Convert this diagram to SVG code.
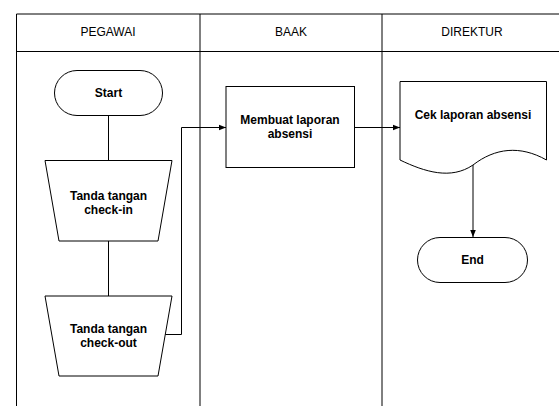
<svg xmlns="http://www.w3.org/2000/svg" width="559" height="406" viewBox="0 0 559 406">
<defs>
<style>
.ln{fill:none;stroke:#000;stroke-width:1}
.shp{fill:#fff;stroke:#000;stroke-width:1}
.hd{font-family:"Liberation Sans",Arial,sans-serif;font-size:12px;fill:#000;text-anchor:middle}
.lb{font-family:"Liberation Sans",Arial,sans-serif;font-size:12px;font-weight:bold;fill:#000;text-anchor:middle}
</style>
<marker id="arr" viewBox="0 0 10 10" refX="10" refY="5" markerWidth="7" markerHeight="7" markerUnits="userSpaceOnUse" orient="auto">
<path d="M0,1 L10,5 L0,9 Z" fill="#000"/>
</marker>
</defs>
<rect width="559" height="406" fill="#fff"/>
<g id="lanes">
<path class="ln" d="M16.5,406 V14 H565 M16.5,51.5 H565 M200,14 V406 M382,14 V406"/>
<text class="hd" x="108" y="36">PEGAWAI</text>
<text class="hd" x="291" y="36">BAAK</text>
<text class="hd" x="472" y="36">DIREKTUR</text>
</g>
<g id="connectors">
<path class="ln" d="M108.5,115 V160"/>
<path class="ln" d="M108.5,241 V296"/>
<path class="ln" d="M165,334.5 H181.5 V127.5 H226" marker-end="url(#arr)"/>
<path class="ln" d="M354.5,127.5 H400" marker-end="url(#arr)"/>
<path class="ln" d="M473,165 V237" marker-end="url(#arr)"/>
</g>
<g id="start">
<rect class="shp" x="54.5" y="70.5" width="108" height="45" rx="22.5" ry="22.5"/>
<text class="lb" x="108.5" y="97">Start</text>
</g>
<g id="checkin">
<path class="shp" d="M45,160.5 H172 L158,241 H59 Z"/>
<text class="lb" x="108.5" y="200">Tanda tangan</text>
<text class="lb" x="108.5" y="214">check-in</text>
</g>
<g id="checkout">
<path class="shp" d="M45,296 H172 L158,376 H59 Z"/>
<text class="lb" x="108.5" y="333">Tanda tangan</text>
<text class="lb" x="108.5" y="347">check-out</text>
</g>
<g id="membuat">
<rect class="shp" x="226" y="86.5" width="128.5" height="81"/>
<text class="lb" x="290" y="124">Membuat laporan</text>
<text class="lb" x="290" y="138">absensi</text>
</g>
<g id="cek">
<path class="shp" d="M400,81.5 H546.5 V160 C520,145 495,148 473,165 C451,180 425,172 400,160 Z"/>
<text class="lb" x="473" y="119">Cek laporan absensi</text>
</g>
<g id="end">
<rect class="shp" x="417.5" y="237.5" width="110" height="45" rx="22.5" ry="22.5"/>
<text class="lb" x="472.5" y="264">End</text>
</g>
</svg>
